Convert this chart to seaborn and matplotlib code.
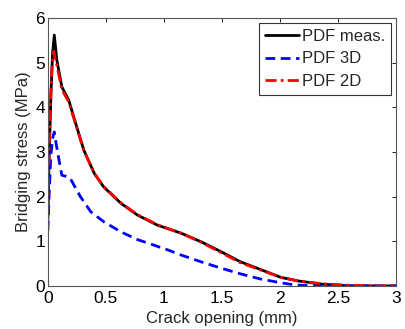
import matplotlib
matplotlib.use("Agg")
import matplotlib.pyplot as plt
import seaborn as sns
import pandas as pd

# measured bridging law
meas_x = [0.0, 0.01, 0.025, 0.04, 0.055, 0.077, 0.12, 0.18, 0.237, 0.31, 0.40, 0.48,
          0.63, 0.77, 0.945, 1.15, 1.32, 1.49, 1.66, 1.84, 2.01, 2.16, 2.36, 2.6, 3.0]
meas_y = [1.5, 2.8, 4.2, 5.2, 5.62, 5.06, 4.46, 4.16, 3.66, 3.04, 2.52, 2.22,
          1.85, 1.59, 1.36, 1.18, 0.99, 0.77, 0.54, 0.36, 0.19, 0.11, 0.04, 0.0, 0.0]

# PDF 3D prediction
pdf3d_x = [0.0, 0.01, 0.025, 0.04, 0.055, 0.07, 0.09, 0.12, 0.165, 0.19, 0.28, 0.37,
           0.48, 0.63, 0.77, 1.03, 1.15, 1.32, 1.49, 1.66, 1.84, 2.01, 2.13, 2.3, 3.0]
pdf3d_y = [1.25, 2.0, 2.9, 3.3, 3.45, 3.2, 2.9, 2.48, 2.45, 2.42, 2.0, 1.66,
           1.44, 1.21, 1.04, 0.81, 0.69, 0.54, 0.40, 0.27, 0.15, 0.07, 0.02, 0.0, 0.0]

# PDF 2D prediction
pdf2d_x = [0.0, 0.01, 0.02, 0.035, 0.05, 0.077, 0.12, 0.18, 0.237, 0.31, 0.40, 0.48,
           0.63, 0.77, 0.945, 1.15, 1.32, 1.49, 1.66, 1.84, 2.01, 2.16, 2.36, 2.55, 2.8, 3.0]
pdf2d_y = [1.7, 3.0, 4.0, 4.9, 5.25, 4.95, 4.4, 4.12, 3.64, 3.03, 2.52, 2.23,
           1.86, 1.60, 1.37, 1.18, 0.98, 0.75, 0.52, 0.35, 0.19, 0.11, 0.05, 0.02, 0.0, 0.0]

sns.set_theme(style="white")
plt.rcParams.update({"font.family": ["Liberation Sans", "DejaVu Sans"], "font.size": 12})

fig = plt.figure(figsize=(4.06, 3.29), dpi=100)
ax = fig.add_axes([0.118, 0.131, 0.857, 0.814])

df_meas = pd.DataFrame({"x": meas_x, "y": meas_y})
df_3d = pd.DataFrame({"x": pdf3d_x, "y": pdf3d_y})
df_2d = pd.DataFrame({"x": pdf2d_x, "y": pdf2d_y})

sns.lineplot(data=df_meas, x="x", y="y", color="black", linewidth=2, sort=False,
             estimator=None, ax=ax, label="PDF meas.")
sns.lineplot(data=df_3d, x="x", y="y", color="#0000ff", linewidth=2, sort=False,
             estimator=None, ax=ax, label="PDF 3D", linestyle=(0, (3.5, 2)))
sns.lineplot(data=df_2d, x="x", y="y", color="#ff0000", linewidth=2, sort=False,
             estimator=None, ax=ax, label="PDF 2D", linestyle=(0, (4, 1.5, 1, 1.5)))

ax.set_xlim(0, 3)
ax.set_ylim(0, 6)
ax.set_xticks([0, 0.5, 1, 1.5, 2, 2.5, 3])
ax.set_xticklabels(["0", "0.5", "1", "1.5", "2", "2.5", "3"])
ax.set_yticks([0, 1, 2, 3, 4, 5, 6])
ax.set_xlabel("Crack opening (mm)", fontsize=12, labelpad=3)
ax.set_ylabel("Bridging stress (MPa)", fontsize=12, labelpad=3)

ax.tick_params(direction="in", length=3, width=0.6, top=True, right=True,
               labelsize=12.5, colors="black", pad=2)
ax.tick_params(axis="x", pad=4)
for s in ax.spines.values():
    s.set_color("#555555")
    s.set_linewidth(0.8)

leg = ax.legend(loc="upper right", fontsize=12, frameon=True, fancybox=False,
                edgecolor="black", handlelength=2.0, handletextpad=0.2,
                borderaxespad=0.3, labelspacing=0.45, borderpad=0.35)
leg.get_frame().set_linewidth(0.8)

plt.savefig("out.png", dpi=100)
